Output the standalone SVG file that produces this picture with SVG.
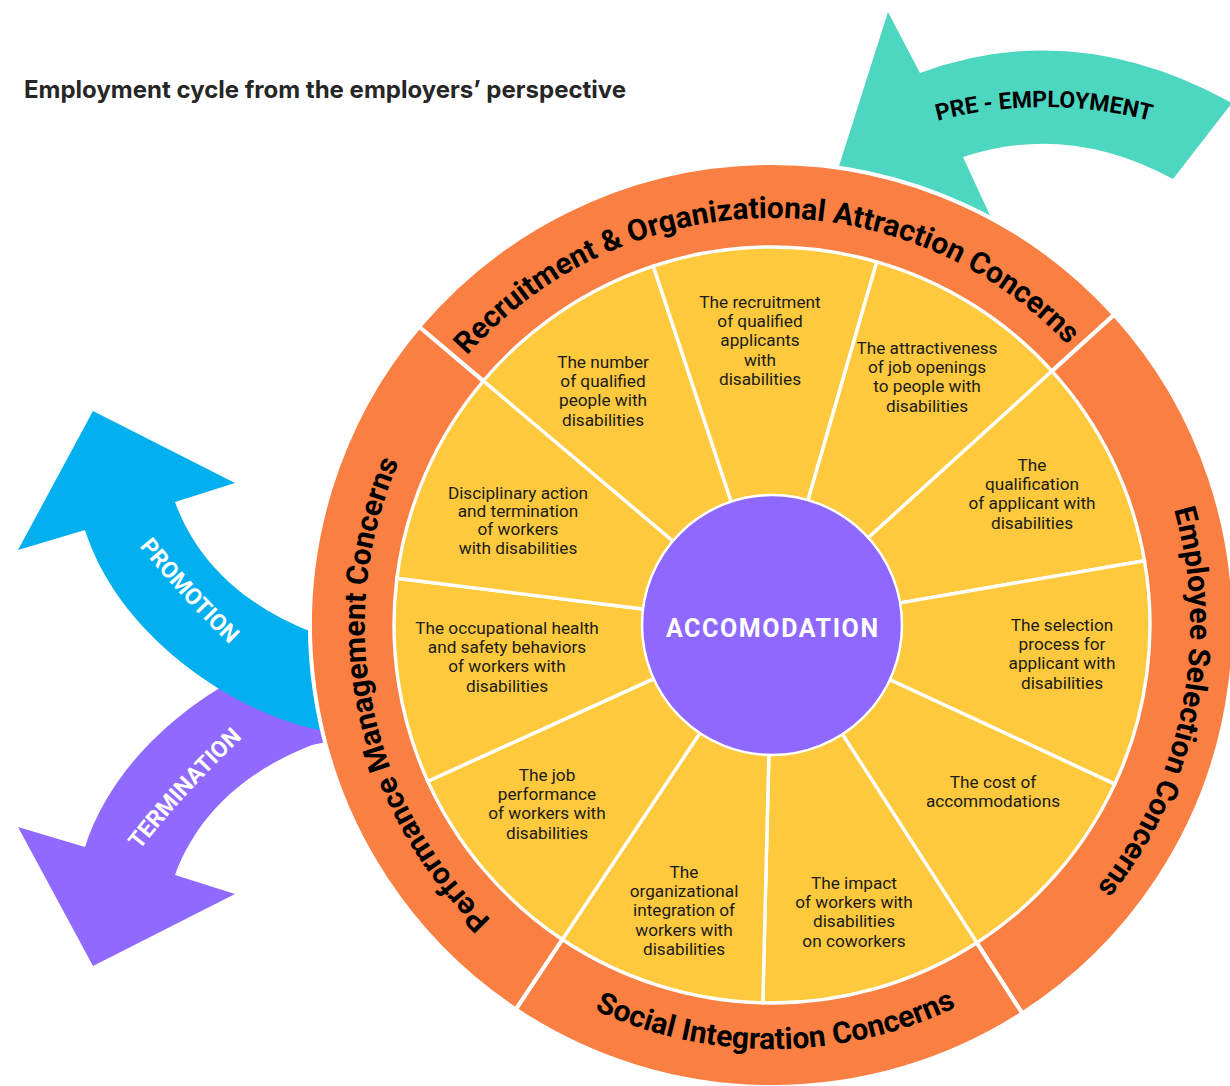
<svg xmlns="http://www.w3.org/2000/svg" width="1230" height="1086" viewBox="0 0 1230 1086">
<style>
.ring{fill:#FA7F43;stroke:#fff;stroke-width:4;stroke-linejoin:miter}
.wedge{fill:#FEC93C;stroke:#fff;stroke-width:3.4}
.hub{fill:#8F69FF;stroke:#fff;stroke-width:2.5}
.wt{font-family:Roboto,"Liberation Sans",sans-serif;font-size:17.2px;fill:#1b1b1b;text-anchor:middle}
.rl{font-family:Roboto,"Liberation Sans",sans-serif;font-weight:700;font-size:30px;fill:#000}
.at{font-family:Roboto,"Liberation Sans",sans-serif;font-weight:700;font-size:23px}
.title{font-family:Inter,"Liberation Sans",sans-serif;font-weight:700;font-size:24px;fill:#262626}
</style>
<defs>
<path id="pTop" d="M 370.0,561.3 A 407 407 0 0 1 1171.5,547.3"/>
<path id="pRight" d="M 925.2,236.1 A 418 418 0 0 1 761.1,1042.9"/>
<path id="pBottom" d="M 355.1,702.3 A 424 424 0 0 0 1190.2,695.0"/>
<path id="pLeft" d="M 781.9,1031.9 A 407 407 0 0 1 623.5,246.0"/>
<path id="pPre" d="M 867.8,146.1 A 417 417 0 0 1 1220.2,146.1"/>
<path id="pPro" d="M 125,527.9 Q 180.2,599.8 246.6,660.5"/>
<path id="pTer" d="M 131,861.1 Q 186.2,789.2 252.6,728.5"/>
<path id="arrowLeft" d="M 93,411 L 235,483 L 175,502 C 200,570 255,610 312,632 L 350,640 L 350,735 L 320,730 C 240,715 120,640 85,530 L 18,550 Z"/>
</defs>

<text id="title" class="title" x="24" y="98">Employment cycle from the employers’ perspective</text>

<g id="connectors">
  <g id="arrow-pre-employment">
    <path fill="#4DD6C0" d="M 888,12 L 920,73 Q 1075,16 1232,103 L 1173,179 Q 1068,122 963,157 L 1005,248 L 825,210 Z"/>
    <text class="at" fill="#000"><textPath href="#pPre" startOffset="50%" text-anchor="middle">PRE - EMPLOYMENT</textPath></text>
  </g>
  <g id="arrow-termination">
    <use href="#arrowLeft" fill="#9069FF" transform="matrix(1 0 0 -1 0 1377)"/>
    <text class="at" fill="#fff"><textPath href="#pTer" startOffset="50%" text-anchor="middle">TERMINATION</textPath></text>
  </g>
  <g id="arrow-promotion">
    <use href="#arrowLeft" fill="#03B0EF"/>
    <text class="at" fill="#fff"><textPath href="#pPro" startOffset="50%" text-anchor="middle">PROMOTION</textPath></text>
  </g>
</g>

<g id="ring-recruitment">
  <path class="ring" d="M 497.0,392.6 L 419.1,326.8 A 462 462 0 0 1 1114.2,314.7 L 1038.7,383.2 A 360 360 0 0 0 497.0,392.6 Z"/>
  <text class="rl"><textPath href="#pTop" startOffset="50%" text-anchor="middle">Recruitment &amp; Organizational Attraction Concerns</textPath></text>
</g>
<g id="ring-selection">
  <path class="ring" d="M 1038.7,383.2 L 1114.2,314.7 A 462 462 0 0 1 1022.3,1013.4 L 967.0,927.6 A 360 360 0 0 0 1038.7,383.2 Z"/>
  <text class="rl"><textPath href="#pRight" startOffset="50%" text-anchor="middle">Employee Selection Concerns</textPath></text>
</g>
<g id="ring-social">
  <path class="ring" d="M 967.0,927.6 L 1022.3,1013.4 A 462 462 0 0 1 515.7,1009.4 L 572.3,924.5 A 360 360 0 0 0 967.0,927.6 Z"/>
  <text class="rl"><textPath href="#pBottom" startOffset="50%" text-anchor="middle">Social Integration Concerns</textPath></text>
</g>
<g id="ring-performance">
  <path class="ring" d="M 572.3,924.5 L 515.7,1009.4 A 462 462 0 0 1 419.1,326.8 L 497.0,392.6 A 360 360 0 0 0 572.3,924.5 Z"/>
  <text class="rl"><textPath href="#pLeft" startOffset="50%" text-anchor="middle">Performance Management Concerns</textPath></text>
</g>

<g id="w-number">
  <path class="wedge" d="M 680.3,547.5 L 483.3,381.0 A 378 378 0 0 1 653.3,266.1 L 734.3,511.1 A 120 120 0 0 0 680.3,547.5 Z"/>
  <text class="wt" x="603" y="367.6"><tspan x="603">The number</tspan><tspan x="603" dy="19.3">of qualified</tspan><tspan x="603" dy="19.3">people with</tspan><tspan x="603" dy="19.3">disabilities</tspan></text>
</g>
<g id="w-recruitment">
  <path class="wedge" d="M 734.3,511.1 L 653.3,266.1 A 378 378 0 0 1 876.8,261.8 L 805.3,509.7 A 120 120 0 0 0 734.3,511.1 Z"/>
  <text class="wt" x="760" y="307.6"><tspan x="760">The recruitment</tspan><tspan x="760" dy="19.3">of qualified</tspan><tspan x="760" dy="19.3">applicants</tspan><tspan x="760" dy="19.3">with</tspan><tspan x="760" dy="19.3">disabilities</tspan></text>
</g>
<g id="w-attractiveness">
  <path class="wedge" d="M 805.3,509.7 L 876.8,261.8 A 378 378 0 0 1 1052.0,371.1 L 860.9,544.4 A 120 120 0 0 0 805.3,509.7 Z"/>
  <text class="wt" x="927" y="353.6"><tspan x="927">The attractiveness</tspan><tspan x="927" dy="19.3">of job openings</tspan><tspan x="927" dy="19.3">to people with</tspan><tspan x="927" dy="19.3">disabilities</tspan></text>
</g>
<g id="w-qualification">
  <path class="wedge" d="M 860.9,544.4 L 1052.0,371.1 A 378 378 0 0 1 1144.5,560.7 L 890.2,604.6 A 120 120 0 0 0 860.9,544.4 Z"/>
  <text class="wt" x="1032" y="470.6"><tspan x="1032">The</tspan><tspan x="1032" dy="19.3">qualification</tspan><tspan x="1032" dy="19.3">of applicant with</tspan><tspan x="1032" dy="19.3">disabilities</tspan></text>
</g>
<g id="w-selection">
  <path class="wedge" d="M 890.2,604.6 L 1144.5,560.7 A 378 378 0 0 1 1114.8,784.1 L 880.8,675.5 A 120 120 0 0 0 890.2,604.6 Z"/>
  <text class="wt" x="1062" y="630.6"><tspan x="1062">The selection</tspan><tspan x="1062" dy="19.3">process for</tspan><tspan x="1062" dy="19.3">applicant with</tspan><tspan x="1062" dy="19.3">disabilities</tspan></text>
</g>
<g id="w-cost">
  <path class="wedge" d="M 880.8,675.5 L 1114.8,784.1 A 378 378 0 0 1 976.8,942.7 L 837.0,725.9 A 120 120 0 0 0 880.8,675.5 Z"/>
  <text class="wt" x="993" y="787.6"><tspan x="993">The cost of</tspan><tspan x="993" dy="19.3">accommodations</tspan></text>
</g>
<g id="w-impact">
  <path class="wedge" d="M 837.0,725.9 L 976.8,942.7 A 378 378 0 0 1 762.8,1002.9 L 769.1,745.0 A 120 120 0 0 0 837.0,725.9 Z"/>
  <text class="wt" x="854" y="888.6"><tspan x="854">The impact</tspan><tspan x="854" dy="19.3">of workers with</tspan><tspan x="854" dy="19.3">disabilities</tspan><tspan x="854" dy="19.3">on coworkers</tspan></text>
</g>
<g id="w-organizational">
  <path class="wedge" d="M 769.1,745.0 L 762.8,1002.9 A 378 378 0 0 1 562.3,939.5 L 705.4,724.8 A 120 120 0 0 0 769.1,745.0 Z"/>
  <text class="wt" x="684" y="877.6"><tspan x="684">The</tspan><tspan x="684" dy="19.3">organizational</tspan><tspan x="684" dy="19.3">integration of</tspan><tspan x="684" dy="19.3">workers with</tspan><tspan x="684" dy="19.3">disabilities</tspan></text>
</g>
<g id="w-job">
  <path class="wedge" d="M 705.4,724.8 L 562.3,939.5 A 378 378 0 0 1 427.8,781.2 L 662.7,674.6 A 120 120 0 0 0 705.4,724.8 Z"/>
  <text class="wt" x="547" y="780.6"><tspan x="547">The job</tspan><tspan x="547" dy="19.3">performance</tspan><tspan x="547" dy="19.3">of workers with</tspan><tspan x="547" dy="19.3">disabilities</tspan></text>
</g>
<g id="w-occupational">
  <path class="wedge" d="M 662.7,674.6 L 427.8,781.2 A 378 378 0 0 1 396.9,578.3 L 652.9,610.2 A 120 120 0 0 0 662.7,674.6 Z"/>
  <text class="wt" x="507" y="633.6"><tspan x="507">The occupational health</tspan><tspan x="507" dy="19.3">and safety behaviors</tspan><tspan x="507" dy="19.3">of workers with</tspan><tspan x="507" dy="19.3">disabilities</tspan></text>
</g>
<g id="w-disciplinary">
  <path class="wedge" d="M 652.9,610.2 L 396.9,578.3 A 378 378 0 0 1 483.3,381.0 L 680.3,547.5 A 120 120 0 0 0 652.9,610.2 Z"/>
  <text class="wt" x="518" y="498.6"><tspan x="518">Disciplinary action</tspan><tspan x="518" dy="18.4">and termination</tspan><tspan x="518" dy="18.4">of workers</tspan><tspan x="518" dy="18.4">with disabilities</tspan></text>
</g>

<g id="hub">
  <circle class="hub" cx="772" cy="625" r="130"/>
  <text x="772.8" y="637" fill="#fff" text-anchor="middle" font-family="Roboto,'Liberation Sans',sans-serif" font-weight="700" font-size="25" letter-spacing="1.6">ACCOMODATION</text>
</g>
</svg>
